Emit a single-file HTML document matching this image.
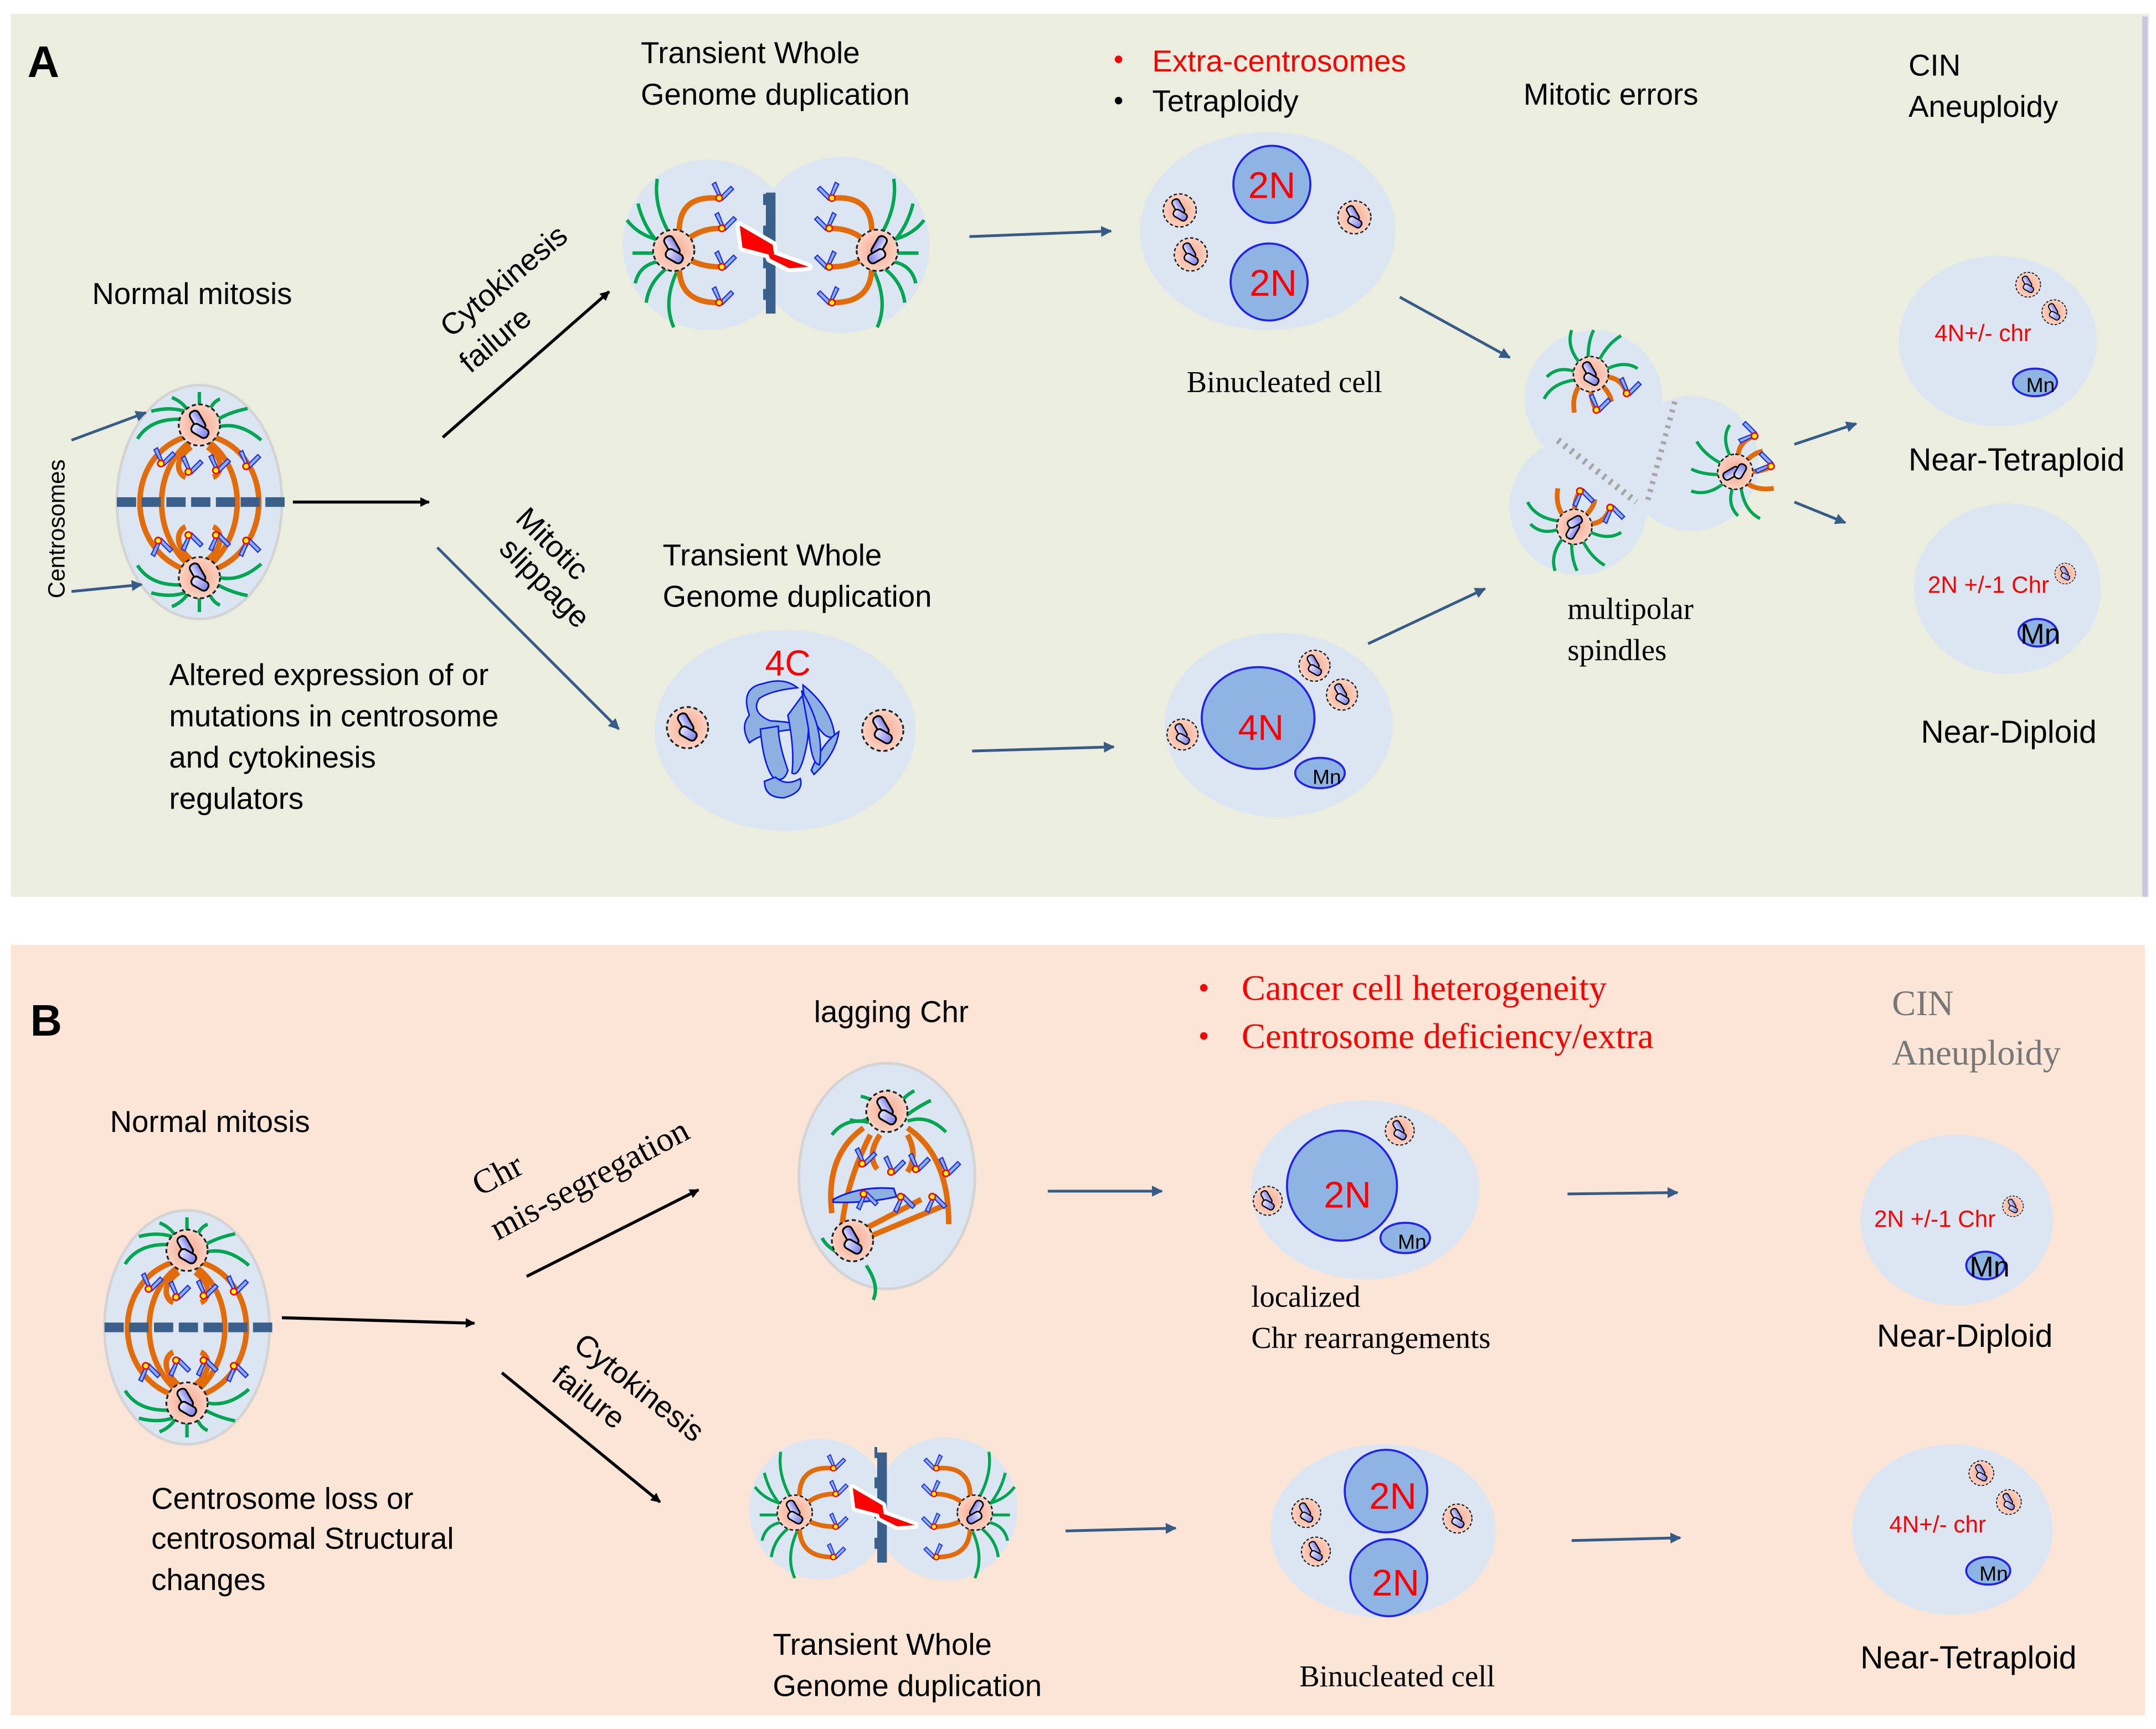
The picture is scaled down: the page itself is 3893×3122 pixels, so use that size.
<!DOCTYPE html>
<html><head><meta charset="utf-8"><style>
html,body{margin:0;padding:0;background:#fff}
svg{display:block}
text{font-family:"Liberation Sans",sans-serif}
.s{font-family:"Liberation Serif",serif}
</style></head><body>
<svg width="3893" height="3122" viewBox="0 0 1568 1257" preserveAspectRatio="none" xmlns="http://www.w3.org/2000/svg">
<defs>
<radialGradient id="pk"><stop offset="0" stop-color="#f7a88e"/><stop offset="1" stop-color="#fbd2c2"/></radialGradient>
<linearGradient id="bl" x1="0" y1="0" x2="1" y2="0"><stop offset="0" stop-color="#e6e6ff"/><stop offset="1" stop-color="#7f7fe8"/></linearGradient>
<marker id="ak" viewBox="0 0 10 10" refX="9" refY="5" markerWidth="7" markerHeight="7" orient="auto" markerUnits="userSpaceOnUse"><path d="M0 0L10 5L0 10z" fill="#000"/></marker>
<marker id="ab" viewBox="0 0 10 10" refX="9" refY="5" markerWidth="8" markerHeight="8" orient="auto" markerUnits="userSpaceOnUse"><path d="M0 0L10 5L0 10z" fill="#355b86"/></marker>
<g id="cen">
<circle r="15" fill="url(#pk)" stroke="#222" stroke-width="1.3" stroke-dasharray="3 2"/>
<rect x="-3" y="-11" width="7" height="15" rx="3" transform="rotate(-30)" fill="url(#bl)" stroke="#000" stroke-width="1.3"/>
<rect x="-4" y="0" width="13" height="7" rx="3" transform="rotate(30)" fill="url(#bl)" stroke="#000" stroke-width="1.3"/>
</g>
<g id="chr"><path d="M0 0 l-5 -10 l2.5 -1.5 l4 10 l7 -7 l2 2 l-8 8z" fill="#8eb0e0" stroke="#2030f0" stroke-width="0.9"/><circle r="2.3" fill="#ff0" stroke="#f00" stroke-width="1.1"/></g>
<g id="spin">
<ellipse rx="60" ry="85" fill="#dce6f2" stroke="#d4d4d4" stroke-width="2"/>
<g fill="none" stroke="#00a651" stroke-width="2.5">
<path d="M-45 -46 Q-35 -62 -10 -60"/><path d="M-35 -66 Q-20 -70 -8 -65"/><path d="M-20 -76 Q-10 -72 -6 -62"/><path d="M0 -80 L0 -64"/><path d="M15 -75 Q8 -72 6 -62"/><path d="M35 -68 Q20 -65 10 -58"/><path d="M45 -45 Q30 -58 15 -55"/>
<path d="M-45 46 Q-35 62 -10 60"/><path d="M-35 66 Q-20 70 -8 65"/><path d="M-20 76 Q-10 72 -6 62"/><path d="M0 80 L0 64"/><path d="M15 75 Q8 72 6 62"/><path d="M35 68 Q20 65 10 58"/><path d="M45 45 Q30 58 15 55"/>
</g>
<g fill="none" stroke="#e36c0a" stroke-width="4">
<path d="M-8 -48 C-55 -35 -55 35 -8 50"/><path d="M8 -48 C55 -35 55 35 8 50"/><path d="M-5 -45 C-35 -25 -35 25 -5 48"/><path d="M5 -45 C35 -25 35 25 5 48"/><path d="M-6 -40 C-20 -30 -15 -20 -10 -18"/><path d="M6 -40 C20 -30 15 -20 10 -18"/><path d="M-6 42 C-20 30 -15 20 -10 18"/><path d="M6 42 C20 30 15 20 10 18"/>
</g>
<use href="#chr" x="-28" y="-28"/><use href="#chr" x="-8" y="-22"/><use href="#chr" x="12" y="-23"/><use href="#chr" x="34" y="-26"/>
<g transform="scale(1,-1)"><use href="#chr" x="-30" y="-28"/><use href="#chr" x="-8" y="-24"/><use href="#chr" x="12" y="-24"/><use href="#chr" x="34" y="-28"/></g>
<line x1="-60" y1="0" x2="62" y2="0" stroke="#3a5f8a" stroke-width="7" stroke-dasharray="14 4"/>
<use href="#cen" y="-56"/><use href="#cen" y="55"/>
</g>
<g id="half">
<g fill="none" stroke="#00a651" stroke-width="2.5">
<path d="M-22 -8 Q-35 -30 -32 -50"/><path d="M-30 -2 Q-42 -15 -46 -32"/><path d="M-32 4 L-50 4"/><path d="M-30 10 Q-45 12 -48 26"/><path d="M-25 15 Q-38 25 -40 40"/><path d="M-18 18 Q-28 40 -20 58"/><path d="M-28 -5 Q-45 -8 -54 -20"/>
</g>
<g fill="none" stroke="#e36c0a" stroke-width="4">
<path d="M-16 -12 Q-16 -38 12 -36"/><path d="M-10 -6 Q0 -14 14 -14"/><path d="M-10 8 Q0 14 14 14"/><path d="M-16 14 Q-16 40 12 40"/>
</g>
<use href="#chr" x="13" y="-36"/><use href="#chr" x="15" y="-14"/><use href="#chr" x="15" y="14"/><use href="#chr" x="13" y="40"/>
<use href="#cen" x="-20" y="2"/>
</g>
<g id="bolt"><path d="M-22 -18 L2 -4 L3 3 L28 12 L14 13 L0 6 L-1 3 L-20 -2 Z" fill="#f00" stroke="#fff" stroke-width="6" stroke-linejoin="round" paint-order="stroke"/></g>
<g id="mini">
<g fill="none" stroke="#00a651" stroke-width="2.3"><path d="M-8 -8 Q-18 -20 -14 -32"/><path d="M-2 -12 Q-2 -24 2 -32"/><path d="M6 -10 Q12 -22 22 -28"/><path d="M-12 -2 Q-24 -6 -32 2"/><path d="M-10 4 Q-28 6 -34 18"/><path d="M12 -4 Q25 -10 34 -4"/></g>
<g fill="none" stroke="#e36c0a" stroke-width="3.5"><path d="M10 2 Q22 2 26 14"/><path d="M0 10 Q0 20 4 26"/><path d="M8 8 Q14 14 15 20"/><path d="M-8 8 Q-14 16 -12 28"/></g>
<use href="#chr" x="4" y="26"/><use href="#chr" x="26" y="14"/>
<use href="#cen" transform="scale(0.85)"/>
</g>
</defs>

<rect x="8" y="10" width="1555" height="642" fill="#ebeedf"/>
<line x1="1560" y1="12" x2="1560" y2="652" stroke="#c9c6de" stroke-width="4"/>
<text x="20" y="56" font-size="32" font-weight="bold">A</text>

<use href="#spin" x="145" y="365"/>
<text transform="translate(47,435) rotate(-90)" font-size="17">Centrosomes</text>
<line x1="52" y1="320" x2="106" y2="300" stroke="#355b86" stroke-width="2" marker-end="url(#ab)"/>
<line x1="52" y1="430" x2="103" y2="425" stroke="#355b86" stroke-width="2" marker-end="url(#ab)"/>
<line x1="213" y1="365" x2="312" y2="365" stroke="#000" stroke-width="2.2" marker-end="url(#ak)"/>
<text x="67" y="221" font-size="22">Normal mitosis</text>
<text font-size="22"><tspan x="123" y="498">Altered expression of or</tspan><tspan x="123" y="528">mutations in centrosome</tspan><tspan x="123" y="558">and cytokinesis</tspan><tspan x="123" y="588">regulators</tspan></text>

<line x1="322" y1="318" x2="443" y2="212" stroke="#000" stroke-width="2.2" marker-end="url(#ak)"/>
<text transform="translate(328,246) rotate(-40)" font-size="22">Cytokinesis</text>
<text transform="translate(342,272) rotate(-40)" font-size="22">failure</text>
<line x1="318" y1="398" x2="450" y2="530" stroke="#355b86" stroke-width="2" marker-end="url(#ab)"/>
<text transform="translate(374,378) rotate(45)" font-size="22">Mitotic</text>
<text transform="translate(362,400) rotate(45)" font-size="22">slippage</text>

<circle cx="515" cy="178" r="62" fill="#dce6f2"/><circle cx="612" cy="178" r="64" fill="#dce6f2"/>
<use href="#half" x="510" y="180"/>
<use href="#half" transform="translate(618,180) scale(-1,1)"/>
<path d="M557 140h7v88h-7v-10h-2v-8h2v-15h-2v-8h2v-15h-2v-8h2v-15h-2v-8h2z" fill="#3a5f8a"/>
<use href="#bolt" x="560" y="182"/>
<text x="466" y="46" font-size="22">Transient Whole</text>
<text x="466" y="76" font-size="22">Genome duplication</text>
<line x1="705" y1="172" x2="808" y2="168" stroke="#355b86" stroke-width="2" marker-end="url(#ab)"/>

<ellipse cx="922" cy="168" rx="93" ry="72" fill="#dce6f2"/>
<circle cx="925" cy="134" r="28" fill="#8eb4e3" stroke="#2222ee" stroke-width="1.5"/>
<circle cx="923" cy="205" r="28" fill="#8eb4e3" stroke="#2222ee" stroke-width="1.5"/>
<text x="925" y="144" font-size="27" fill="#f00" text-anchor="middle">2N</text>
<text x="926" y="215" font-size="27" fill="#f00" text-anchor="middle">2N</text>
<use href="#cen" transform="translate(858,153) scale(0.8)"/><use href="#cen" transform="translate(866,185) scale(0.8)"/><use href="#cen" transform="translate(985,158) scale(0.8)"/>
<text x="810" y="50" font-size="20" fill="#f00">•</text><text x="838" y="52" font-size="22" fill="#f00">Extra-centrosomes</text>
<text x="810" y="80" font-size="20">•</text><text x="838" y="81" font-size="22">Tetraploidy</text>
<text x="863" y="285" class="s" font-size="22">Binucleated cell</text>
<line x1="1018" y1="216" x2="1098" y2="260" stroke="#355b86" stroke-width="2" marker-end="url(#ab)"/>

<ellipse cx="571" cy="531" rx="95" ry="73" fill="#dce6f2"/>
<text x="573" y="491" font-size="26" fill="#f00" text-anchor="middle">4C</text>
<g fill="#8eb0e0" stroke="#0b1bf0" stroke-width="1.1">
<path d="M545 520 Q538 500 555 497 Q570 492 580 500 Q560 502 552 508 Q546 518 560 524 Q590 526 580 530 Q555 532 545 540 Q538 528 545 520Z"/>
<path d="M553 530 Q555 555 562 565 Q570 570 573 560 Q566 540 566 528Z"/>
<path d="M584 498 Q605 515 607 535 Q600 540 590 520 Q584 508 584 498Z"/>
<path d="M573 520 Q578 545 576 562 Q582 566 587 540 Q590 520 584 505Z"/>
<path d="M556 568 Q556 580 570 580 Q585 576 582 566 Q572 572 564 565Z"/>
<path d="M590 560 Q598 540 610 532 Q608 548 592 563Z"/>
<path d="M583 502 Q600 530 596 556 Q590 556 588 530Z"/>
</g>
<use href="#cen" x="500" y="529"/><use href="#cen" x="642" y="531"/>
<text x="482" y="411" font-size="22">Transient Whole</text>
<text x="482" y="441" font-size="22">Genome duplication</text>
<line x1="707" y1="546" x2="810" y2="543" stroke="#355b86" stroke-width="2" marker-end="url(#ab)"/>

<ellipse cx="930" cy="527" rx="83" ry="67" fill="#dce6f2"/>
<ellipse cx="915" cy="522" rx="41" ry="37" fill="#8eb4e3" stroke="#2222ee" stroke-width="1.5"/>
<text x="917" y="538" font-size="26" fill="#f00" text-anchor="middle">4N</text>
<ellipse cx="960" cy="562" rx="18" ry="11" fill="#8eb4e3" stroke="#2222ee" stroke-width="1.5"/>
<text x="965" y="570" font-size="15" text-anchor="middle">Mn</text>
<use href="#cen" transform="translate(956,484) scale(0.75)"/><use href="#cen" transform="translate(976,505) scale(0.75)"/><use href="#cen" transform="translate(860,534) scale(0.75)"/>
<line x1="995" y1="468" x2="1080" y2="428" stroke="#355b86" stroke-width="2" marker-end="url(#ab)"/>

<circle cx="1159" cy="290" r="50" fill="#dce6f2"/><circle cx="1230" cy="337" r="49" fill="#dce6f2"/><circle cx="1148" cy="368" r="50" fill="#dce6f2"/>
<use href="#mini" x="1157" y="272"/>
<use href="#mini" transform="translate(1145,383) rotate(180) scale(-1,1)"/>
<use href="#mini" transform="translate(1262,343) rotate(-90)"/>
<line x1="1218" y1="292" x2="1198" y2="365" stroke="#a6a6a6" stroke-width="4" stroke-dasharray="2 4"/>
<line x1="1133" y1="320" x2="1190" y2="365" stroke="#a6a6a6" stroke-width="5" stroke-dasharray="2 4"/>
<text x="1140" y="450" class="s" font-size="22">multipolar</text>
<text x="1140" y="480" class="s" font-size="22">spindles</text>
<text x="1108" y="76" font-size="22">Mitotic errors</text>
<text x="1388" y="55" font-size="22">CIN</text>
<text x="1388" y="85" font-size="22">Aneuploidy</text>
<line x1="1305" y1="323" x2="1350" y2="308" stroke="#355b86" stroke-width="2" marker-end="url(#ab)"/>
<line x1="1305" y1="365" x2="1342" y2="380" stroke="#355b86" stroke-width="2" marker-end="url(#ab)"/>

<ellipse cx="1453" cy="248" rx="72" ry="62" fill="#dce6f2"/>
<text x="1407" y="248" font-size="17" fill="#f00">4N+/- chr</text>
<ellipse cx="1480" cy="278" rx="16" ry="10" fill="#8eb4e3" stroke="#2222ee" stroke-width="1.5"/><text x="1484" y="285" font-size="15" text-anchor="middle">Mn</text>
<use href="#cen" transform="translate(1475,207) scale(0.6)"/><use href="#cen" transform="translate(1494,227) scale(0.6)"/>
<text x="1388" y="342" font-size="23">Near-Tetraploid</text>
<ellipse cx="1460" cy="428" rx="68" ry="62" fill="#dce6f2"/>
<text x="1402" y="431" font-size="17" fill="#f00">2N +/-1 Chr</text>
<ellipse cx="1482" cy="460" rx="14" ry="10" fill="#8eb4e3" stroke="#2222ee" stroke-width="1.5"/><text x="1484" y="468" font-size="21" text-anchor="middle">Mn</text>
<use href="#cen" transform="translate(1502,417) scale(0.5)"/>
<text x="1397" y="540" font-size="23">Near-Diploid</text>

<rect x="8" y="687" width="1552" height="560" fill="#fbe5d6"/>
<text x="22" y="753" font-size="32" font-weight="bold">B</text>
<text x="80" y="823" font-size="22">Normal mitosis</text>
<use href="#spin" x="136" y="965"/>
<text font-size="22"><tspan x="110" y="1097">Centrosome loss or</tspan><tspan x="110" y="1126">centrosomal Structural</tspan><tspan x="110" y="1156">changes</tspan></text>
<line x1="205" y1="958" x2="345" y2="962" stroke="#000" stroke-width="2.2" marker-end="url(#ak)"/>
<line x1="383" y1="928" x2="508" y2="865" stroke="#000" stroke-width="2.2" marker-end="url(#ak)"/>
<text transform="translate(349,870) rotate(-28)" class="s" font-size="25">Chr</text>
<text transform="translate(362,902) rotate(-28)" class="s" font-size="25">mis-segregation</text>
<line x1="365" y1="998" x2="480" y2="1092" stroke="#000" stroke-width="2.2" marker-end="url(#ak)"/>
<text transform="translate(416,980) rotate(38)" font-size="22">Cytokinesis</text>
<text transform="translate(400,1003) rotate(38)" font-size="22">failure</text>

<ellipse cx="645" cy="855" rx="64" ry="82" fill="#dce6f2" stroke="#d4d4d4" stroke-width="2"/>
<g fill="none" stroke="#00a651" stroke-width="2.5"><path d="M605 825 Q615 812 632 816"/><path d="M618 814 Q630 818 636 808"/><path d="M626 797 Q640 800 640 810"/><path d="M646 792 L646 805"/><path d="M665 793 Q655 798 652 808"/><path d="M677 800 Q665 806 658 812"/><path d="M688 823 Q675 810 660 815"/><path d="M608 910 Q600 905 598 900"/><path d="M630 920 Q640 935 635 945"/></g>
<g fill="none" stroke="#e36c0a" stroke-width="4"><path d="M628 820 Q600 840 605 882"/><path d="M660 820 Q690 840 690 890"/><path d="M633 825 Q615 860 612 895"/><path d="M622 897 L670 872"/><path d="M625 902 L690 875"/><path d="M660 825 Q668 840 660 852"/><path d="M640 825 Q630 840 638 850"/></g>
<use href="#chr" x="627" y="846"/><use href="#chr" x="648" y="852"/><use href="#chr" x="666" y="850"/><use href="#chr" x="688" y="853"/>
<path d="M606 872 Q625 862 650 864 L652 870 Q630 875 606 874Z" fill="#8eb0e0" stroke="#0b1bf0" stroke-width="1.2"/>
<g transform="scale(1,-1)"><use href="#chr" x="628" y="-868"/><use href="#chr" x="655" y="-870"/><use href="#chr" x="678" y="-870"/></g>
<use href="#cen" x="645" y="808"/><use href="#cen" x="620" y="902"/>
<text x="592" y="743" font-size="22">lagging Chr</text>
<line x1="762" y1="866" x2="845" y2="866" stroke="#355b86" stroke-width="2" marker-end="url(#ab)"/>

<ellipse cx="993" cy="865" rx="83" ry="65" fill="#dce6f2"/>
<circle cx="976" cy="862" r="40" fill="#8eb4e3" stroke="#2222ee" stroke-width="1.5"/>
<text x="980" y="878" font-size="27" fill="#f00" text-anchor="middle">2N</text>
<ellipse cx="1022" cy="900" rx="18" ry="11" fill="#8eb4e3" stroke="#2222ee" stroke-width="1.5"/><text x="1027" y="908" font-size="15" text-anchor="middle">Mn</text>
<use href="#cen" transform="translate(1018,822) scale(0.7)"/><use href="#cen" transform="translate(922,873) scale(0.7)"/>
<text x="910" y="950" class="s" font-size="22">localized</text>
<text x="910" y="980" class="s" font-size="22">Chr rearrangements</text>
<text x="872" y="725" font-size="20" fill="#f00">•</text><text x="903" y="727" class="s" font-size="26" fill="#f00">Cancer cell heterogeneity</text>
<text x="872" y="760" font-size="20" fill="#f00">•</text><text x="903" y="762" class="s" font-size="26" fill="#f00">Centrosome deficiency/extra</text>
<text x="1376" y="738" class="s" font-size="26" fill="#777">CIN</text>
<text x="1376" y="774" class="s" font-size="26" fill="#777">Aneuploidy</text>
<line x1="1140" y1="868" x2="1220" y2="867" stroke="#355b86" stroke-width="2" marker-end="url(#ab)"/>

<ellipse cx="1423" cy="887" rx="70" ry="62" fill="#dce6f2"/>
<text x="1363" y="892" font-size="17" fill="#f00">2N +/-1 Chr</text>
<ellipse cx="1444" cy="920" rx="14" ry="10" fill="#8eb4e3" stroke="#2222ee" stroke-width="1.5"/><text x="1447" y="928" font-size="21" text-anchor="middle">Mn</text>
<use href="#cen" transform="translate(1464,877) scale(0.5)"/>
<text x="1365" y="979" font-size="23">Near-Diploid</text>

<circle cx="596" cy="1097" r="51" fill="#dce6f2"/><circle cx="688" cy="1097" r="52" fill="#dce6f2"/>
<use href="#half" transform="translate(595,1098) scale(0.85)"/>
<use href="#half" transform="translate(692,1098) scale(-0.85,0.85)"/>
<path d="M638 1056h7v80h-7v-10h-2v-8h2v-14h-2v-8h2v-14h-2v-8h2v-14h-2v-8h2z" fill="#3a5f8a"/>
<use href="#bolt" transform="translate(640,1098) scale(0.9)"/>
<text x="562" y="1203" font-size="22">Transient Whole</text>
<text x="562" y="1233" font-size="22">Genome duplication</text>
<line x1="775" y1="1113" x2="855" y2="1111" stroke="#355b86" stroke-width="2" marker-end="url(#ab)"/>

<ellipse cx="1006" cy="1113" rx="82" ry="63" fill="#dce6f2"/>
<circle cx="1008" cy="1084" r="30" fill="#8eb4e3" stroke="#2222ee" stroke-width="1.5"/>
<circle cx="1010" cy="1147" r="28" fill="#8eb4e3" stroke="#2222ee" stroke-width="1.5"/>
<text x="1013" y="1097" font-size="27" fill="#f00" text-anchor="middle">2N</text>
<text x="1015" y="1160" font-size="27" fill="#f00" text-anchor="middle">2N</text>
<use href="#cen" transform="translate(950,1100) scale(0.7)"/><use href="#cen" transform="translate(957,1128) scale(0.7)"/><use href="#cen" transform="translate(1060,1104) scale(0.7)"/>
<text x="945" y="1226" class="s" font-size="22">Binucleated cell</text>
<line x1="1143" y1="1120" x2="1222" y2="1118" stroke="#355b86" stroke-width="2" marker-end="url(#ab)"/>

<ellipse cx="1420" cy="1112" rx="73" ry="62" fill="#dce6f2"/>
<text x="1374" y="1114" font-size="17" fill="#f00">4N+/- chr</text>
<ellipse cx="1446" cy="1142" rx="16" ry="10" fill="#8eb4e3" stroke="#2222ee" stroke-width="1.5"/><text x="1450" y="1149" font-size="15" text-anchor="middle">Mn</text>
<use href="#cen" transform="translate(1441,1071) scale(0.6)"/><use href="#cen" transform="translate(1461,1092) scale(0.6)"/>
<text x="1353" y="1213" font-size="23">Near-Tetraploid</text>
</svg>
</body></html>
